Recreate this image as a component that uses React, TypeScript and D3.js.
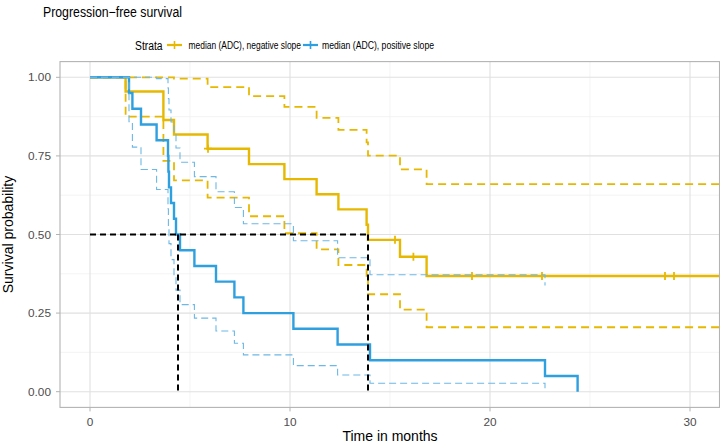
import React from "react";
import * as d3 from "d3";

// ---- Data ----
const strata = ["median (ADC), negative slope", "median (ADC), positive slope"];
const strataColors = ["#E7B800", "#2E9FDF"];

// negative slope group
const negTimes = [0, 1.78, 3.67, 4.2, 5.88, 7.95, 9.72, 11.33, 12.42, 13.83, 13.9, 15.5, 16.83];
const negSurv = [1, 0.955, 0.864, 0.818, 0.773, 0.724, 0.676, 0.628, 0.58, 0.531, 0.483, 0.429, 0.368];
const negUpper = [1, 1, 1, 0.996, 0.969, 0.94, 0.906, 0.871, 0.833, 0.793, 0.751, 0.707, 0.66];
const negLower = [1, 0.875, 0.734, 0.672, 0.617, 0.558, 0.504, 0.453, 0.403, 0.356, 0.31, 0.261, 0.205];
const negCensor = [5.9, 15.25, 16.17, 19.1, 22.6, 28.75, 29.2];
const negEnd = 31.5;

// positive slope group
const posTimes = [0, 1.95, 2.12, 2.55, 3.33, 3.9, 3.92, 3.95, 4.05, 4.2, 4.3, 4.5, 5.22, 6.3, 7.22, 7.67, 10.17, 12.38, 14.0, 22.75, 24.38];
const posSurv = [1, 0.95, 0.9, 0.85, 0.8, 0.75, 0.7, 0.65, 0.6, 0.55, 0.5, 0.45, 0.4, 0.35, 0.3, 0.25, 0.2, 0.15, 0.1, 0.05, 0];
const posUpper = [1, 1, 1, 1, 0.996, 0.966, 0.932, 0.896, 0.858, 0.818, 0.775, 0.73, 0.684, 0.636, 0.586, 0.534, 0.48, 0.426, 0.372, 0.338];
const posLower = [1, 0.859, 0.778, 0.707, 0.643, 0.582, 0.526, 0.471, 0.42, 0.37, 0.323, 0.277, 0.234, 0.193, 0.154, 0.117, 0.083, 0.053, 0.027, 0.007];

// medians
const medianTimes = [4.4, 13.9];
const medianLevel = 0.5;

const xTicks = [0, 10, 20, 30];
const xMinor = [5, 15, 25];
const yTicks = [0, 0.25, 0.5, 0.75, 1];
const yMinor = [0.125, 0.375, 0.625, 0.875];

const titleText = "Progression\u2212free survival";
const xTitle = "Time in months";
const yTitle = "Survival probability";
const legendTitle = "Strata";

// ---- Layout ----
const W = 720;
const H = 446;
const P = { left: 60, right: 720, top: 61.6, bottom: 407.4 };
const FONT = "'Liberation Sans', Arial, Helvetica, sans-serif";

export default function App() {
  const x = d3.scaleLinear().domain([-1.5, 31.5]).range([P.left, P.right]);
  const y = d3.scaleLinear().domain([-0.05, 1.05]).range([P.bottom, P.top]);

  const step = d3
    .line<[number, number]>()
    .x((d) => x(d[0]))
    .y((d) => y(d[1]))
    .curve(d3.curveStepAfter);

  const pts = (ts: number[], vs: number[], end?: number): [number, number][] => {
    const p: [number, number][] = vs.map((v, i) => [ts[i], v]);
    if (end !== undefined) p.push([end, vs[vs.length - 1]]);
    return p;
  };

  const survAt = (ts: number[], vs: number[], t: number) => {
    const i = d3.bisectRight(ts, t) - 1;
    return vs[Math.max(0, i)];
  };

  const negCol = strataColors[0];
  const posCol = strataColors[1];
  const posCiCol = "#6cb8e6";

  const plus = (cx: number, cy: number, col: string, r = 4, key?: string) => (
    <g key={key}>
      <line x1={cx - r} x2={cx + r} y1={cy} y2={cy} stroke={col} strokeWidth={1.8} />
      <line x1={cx} x2={cx} y1={cy - r} y2={cy + r} stroke={col} strokeWidth={1.8} />
    </g>
  );

  return (
    <svg
      width={W}
      height={H}
      style={{ position: "absolute", left: 0, top: 0, background: "#fff" }}
      fontFamily={FONT}
    >
      <rect x={0} y={0} width={W} height={H} fill="#fff" />
      {/* title */}
      <text x={43} y={16.5} fontSize={14} fill="#000" textLength={139} lengthAdjust="spacingAndGlyphs">
        {titleText}
      </text>

      {/* legend */}
      <g>
        <text x={135} y={49.5} fontSize={12} fill="#000" textLength={27.5} lengthAdjust="spacingAndGlyphs">
          {legendTitle}
        </text>
        {[167, 303].map((kx, i) => (
          <g key={i}>
            <line x1={kx} x2={kx + 15} y1={45} y2={45} stroke={strataColors[i]} strokeWidth={2.2} />
            <line x1={kx + 7.5} x2={kx + 7.5} y1={41} y2={49} stroke={strataColors[i]} strokeWidth={1.6} />
          </g>
        ))}
        <text x={188.5} y={48.5} fontSize={10} fill="#000" textLength={112.5} lengthAdjust="spacingAndGlyphs">
          {strata[0]}
        </text>
        <text x={322} y={48.5} fontSize={10} fill="#000" textLength={112} lengthAdjust="spacingAndGlyphs">
          {strata[1]}
        </text>
      </g>

      {/* grid */}
      <g>
        {xMinor.map((t) => (
          <line key={"xm" + t} x1={x(t)} x2={x(t)} y1={P.top} y2={P.bottom} stroke="#ededed" strokeWidth={0.6} />
        ))}
        {yMinor.map((t) => (
          <line key={"ym" + t} x1={P.left} x2={P.right} y1={y(t)} y2={y(t)} stroke="#ededed" strokeWidth={0.6} />
        ))}
        {xTicks.map((t) => (
          <line key={"xg" + t} x1={x(t)} x2={x(t)} y1={P.top} y2={P.bottom} stroke="#e0e0e0" strokeWidth={1.1} />
        ))}
        {yTicks.map((t) => (
          <line key={"yg" + t} x1={P.left} x2={P.right} y1={y(t)} y2={y(t)} stroke="#e0e0e0" strokeWidth={1.1} />
        ))}
      </g>

      <defs>
        <clipPath id="panel">
          <rect x={P.left} y={P.top} width={P.right - P.left} height={P.bottom - P.top} />
        </clipPath>
      </defs>

      <g clipPath="url(#panel)">
        {/* negative slope group */}
        <path d={step(pts(negTimes, negSurv, negEnd)) || ""} fill="none" stroke={negCol} strokeWidth={2.4} />
        <path d={step(pts(negTimes, negUpper, negEnd)) || ""} fill="none" stroke={negCol} strokeWidth={1.8} strokeDasharray="8,5" />
        <path d={step(pts(negTimes, negLower, negEnd)) || ""} fill="none" stroke={negCol} strokeWidth={1.8} strokeDasharray="8,5" />
        {negCensor.map((t, i) => plus(x(t), y(survAt(negTimes, negSurv, t)), negCol, 4, "c" + i))}

        {/* positive slope group */}
        <path d={step(pts(posTimes, posSurv)) || ""} fill="none" stroke={posCol} strokeWidth={2.4} />
        <path d={step(pts(posTimes, posUpper)) || ""} fill="none" stroke={posCiCol} strokeWidth={1.1} strokeDasharray="7,4" />
        <path d={step(pts(posTimes, posLower)) || ""} fill="none" stroke={posCiCol} strokeWidth={1.1} strokeDasharray="7,4" />

        {/* median lines */}
        <line
          x1={x(0)}
          x2={x(d3.max(medianTimes) as number)}
          y1={y(medianLevel)}
          y2={y(medianLevel)}
          stroke="#000"
          strokeWidth={2}
          strokeDasharray="6,4"
        />
        {medianTimes.map((t, i) => (
          <line key={"m" + i} x1={x(t)} x2={x(t)} y1={y(medianLevel)} y2={y(0)} stroke="#000" strokeWidth={2} strokeDasharray="6,4" />
        ))}
      </g>

      {/* panel border */}
      <rect
        x={P.left}
        y={P.top}
        width={P.right - P.left - 0.5}
        height={P.bottom - P.top}
        fill="none"
        stroke="#b3b3b3"
        strokeWidth={1.1}
      />

      {/* axes */}
      <g>
        {yTicks.map((t) => (
          <g key={"yt" + t}>
            <line x1={P.left - 4} x2={P.left} y1={y(t)} y2={y(t)} stroke="#b3b3b3" strokeWidth={1} />
            <text x={51} y={y(t)} dy="0.35em" textAnchor="end" fontSize={11.8} fill="#4d4d4d">
              {d3.format(".2f")(t)}
            </text>
          </g>
        ))}
        {xTicks.map((t) => (
          <g key={"xt" + t}>
            <line x1={x(t)} x2={x(t)} y1={P.bottom} y2={P.bottom + 4} stroke="#b3b3b3" strokeWidth={1} />
            <text x={x(t)} y={425.5} textAnchor="middle" fontSize={11.8} fill="#4d4d4d">
              {t}
            </text>
          </g>
        ))}
      </g>

      <text x={(P.left + P.right) / 2} y={441} textAnchor="middle" fontSize={14} fill="#000">
        {xTitle}
      </text>
      <text
        transform={`translate(13,${(P.top + P.bottom) / 2}) rotate(-90)`}
        textAnchor="middle"
        fontSize={14}
        fill="#000"
      >
        {yTitle}
      </text>
    </svg>
  );
}
